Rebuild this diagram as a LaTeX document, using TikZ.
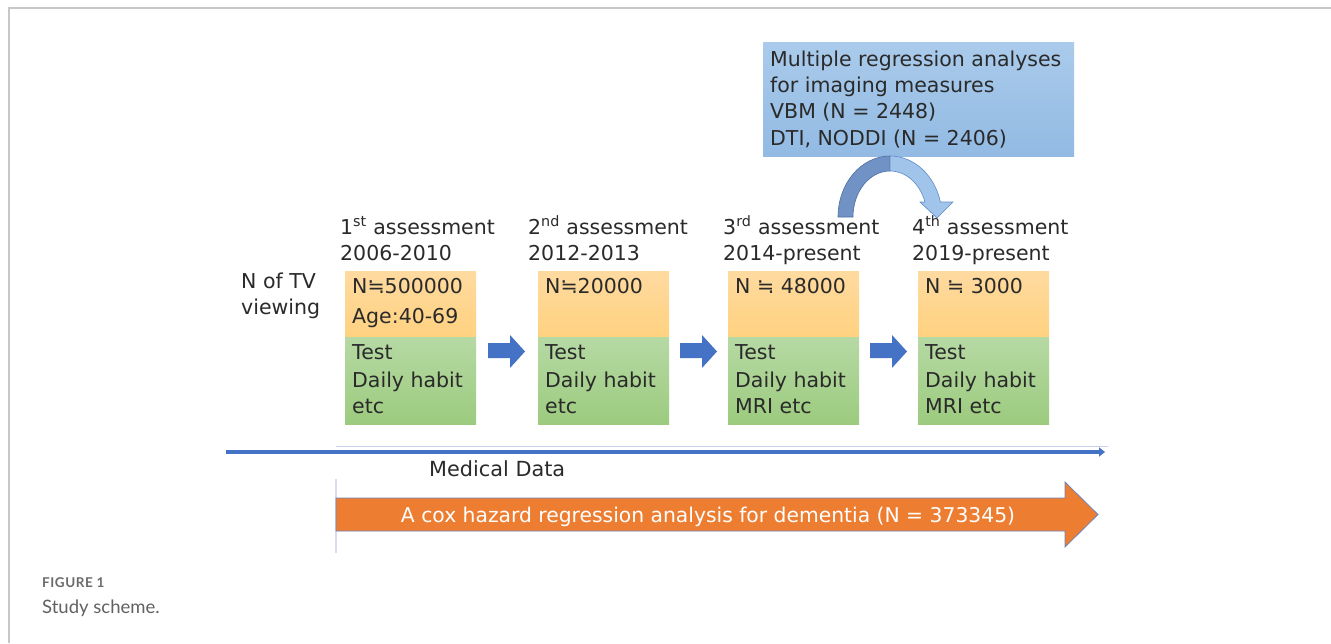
\documentclass[tikz,border=0pt]{standalone}
\usepackage{fontspec}
\setmainfont{DejaVu Sans}
\newfontfamily\capfont{Lato}
\newfontfamily\capfontb[LetterSpace=4]{Lato}
\usetikzlibrary{arrows.meta}
\definecolor{txtc}{HTML}{2A2A2A}
\definecolor{blk}{HTML}{4472C4}
\definecolor{orgA}{HTML}{ED7D31}
\definecolor{orgTop}{RGB}{255,218,160}
\definecolor{orgBot}{RGB}{255,210,128}
\definecolor{grnTop}{RGB}{182,217,164}
\definecolor{grnBot}{RGB}{156,203,126}
\definecolor{bluTop}{RGB}{170,203,235}
\definecolor{bluBot}{RGB}{146,186,227}
\definecolor{cDark}{RGB}{112,146,196}
\definecolor{cDarkE}{RGB}{80,110,160}
\definecolor{cLight}{RGB}{160,196,234}
\definecolor{cLightE}{RGB}{95,140,200}
\definecolor{thinL}{RGB}{200,208,235}
\definecolor{vertL}{RGB}{215,220,238}
\definecolor{orgE}{RGB}{110,132,184}
\begin{document}
\begin{tikzpicture}[x=1pt,y=-1pt,
  txt/.style={anchor=base west, inner sep=0, font=\fontsize{20.5}{24}\selectfont, text=txtc},
  obox/.style={anchor=north west, inner sep=0, minimum width=131, minimum height=65, top color=orgTop, bottom color=orgBot, draw=none},
  gbox/.style={anchor=north west, inner sep=0, minimum width=131, minimum height=87, top color=grnTop, bottom color=grnBot, draw=none},
  barrow/.style={fill=blk}]
\useasboundingbox (0,0) rectangle (1331,643);
\fill[white] (0,0) rectangle (1331,643);
% frame
\draw[black!22, line width=1.5] (9,643) -- (9,8) -- (1331,8);

% left label
\node[txt] (tv1) at (241,288) {N of TV};
\node[txt] (tv2) at (241,314) {viewing};

% column titles
\node[txt] (t1a) at (340,234) {1\textsuperscript{st} assessment};
\node[txt] (t1b) at (340,260) {2006-2010};
\node[txt] (t2a) at (528,234) {2\textsuperscript{nd} assessment};
\node[txt] (t2b) at (528,260) {2012-2013};
\node[txt] (t3a) at (723,234) {3\textsuperscript{rd} assessment};
\node[txt] (t3b) at (723,260) {2014-present};
\node[txt] (t4a) at (912,234) {4\textsuperscript{th} assessment};
\node[txt] (t4b) at (912,260) {2019-present};

% boxes
\foreach \n/\x in {1/345,2/538,3/728,4/918}{
  \node[obox] (o\n) at (\x,271) {};
  \node[gbox] (g\n) at (\x,337) {};
}
\node[txt] (o1a) at (352,293) {N≒500000};
\node[txt] (o1b) at (352,323) {Age:40-69};
\node[txt] (o2a) at (545,293) {N≒20000};
\node[txt] (o3a) at (735,293) {N ≒ 48000};
\node[txt] (o4a) at (925,293) {N ≒ 3000};

\node[txt] (g1a) at (352,359) {Test};
\node[txt] (g1b) at (352,387) {Daily habit};
\node[txt] (g1c) at (352,413) {etc};
\node[txt] (g2a) at (545,359) {Test};
\node[txt] (g2b) at (545,387) {Daily habit};
\node[txt] (g2c) at (545,413) {etc};
\node[txt] (g3a) at (735,359) {Test};
\node[txt] (g3b) at (735,387) {Daily habit};
\node[txt] (g3c) at (735,413) {MRI etc};
\node[txt] (g4a) at (925,359) {Test};
\node[txt] (g4b) at (925,387) {Daily habit};
\node[txt] (g4c) at (925,413) {MRI etc};

% block arrows between columns
\foreach \x in {488,680,870}{
  \fill[barrow] (\x,343) -- (\x+22,343) -- (\x+22,335) -- (\x+37,351.5) -- (\x+22,368) -- (\x+22,358) -- (\x,358) -- cycle;
}

% top blue box
\node[anchor=north west, inner sep=0, minimum width=311, minimum height=114,
  top color=bluTop, bottom color=bluBot] (mb) at (763,42) {};
\node[txt] (m1) at (770,66) {Multiple regression analyses};
\node[txt] (m2) at (770,92) {for imaging measures};
\node[txt] (m3) at (770,118) {VBM (N = 2448)};
\node[txt] (m4) at (770,145) {DTI, NODDI (N = 2406)};

% curved arrow
\filldraw[fill=cDark, draw=cDarkE, line width=0.6]
  (838,217) arc[start angle=180,end angle=270,x radius=52,y radius=61]
  -- (890,171) arc[start angle=270,end angle=180,x radius=37,y radius=46] -- cycle;
\filldraw[fill=cLight, draw=cLightE, line width=0.6]
  (890,156) arc[start angle=270,end angle=345.8,x radius=52,y radius=61]
  -- (953,202) -- (937,218) -- (920,202) -- (925,202)
  arc[start angle=341,end angle=270,x radius=37,y radius=46] -- cycle;

% timeline
\draw[thinL, line width=1] (336,446) -- (1108,446);
\coordinate (ls) at (226,452);
\coordinate (le) at (1105,452);
\draw[blk, line width=3.5, -{Triangle[length=6,width=9]}] (ls) -- (le);
\node[anchor=base west, inner sep=0, font=\fontsize{20.8}{24}\selectfont, text=txtc] (md) at (429,476) {Medical Data};

% vertical thin line
\draw[vertL, line width=1.5] (336,479) -- (336,553);

% orange arrow
\filldraw[fill=orgA, draw=orgE, line width=0.8]
  (336,498) -- (1065,498) -- (1065,482) -- (1098,514.5) -- (1065,547) -- (1065,531) -- (336,531) -- cycle;
\node[anchor=base, inner sep=0, font=\fontsize{20.3}{24}\selectfont, text=white] (cox) at (708,522) {A cox hazard regression analysis for dementia (N = 373345)};

% caption
\node[anchor=base west, inner sep=0, font=\capfontb\bfseries\fontsize{13.5}{16}\selectfont, text=black!58] (fig) at (42,587) {FIGURE 1};
\node[anchor=base west, inner sep=0, font=\capfont\fontsize{18.5}{22}\selectfont, text=black!62] (cap) at (42,613) {Study scheme.};
\end{tikzpicture}
\end{document}
